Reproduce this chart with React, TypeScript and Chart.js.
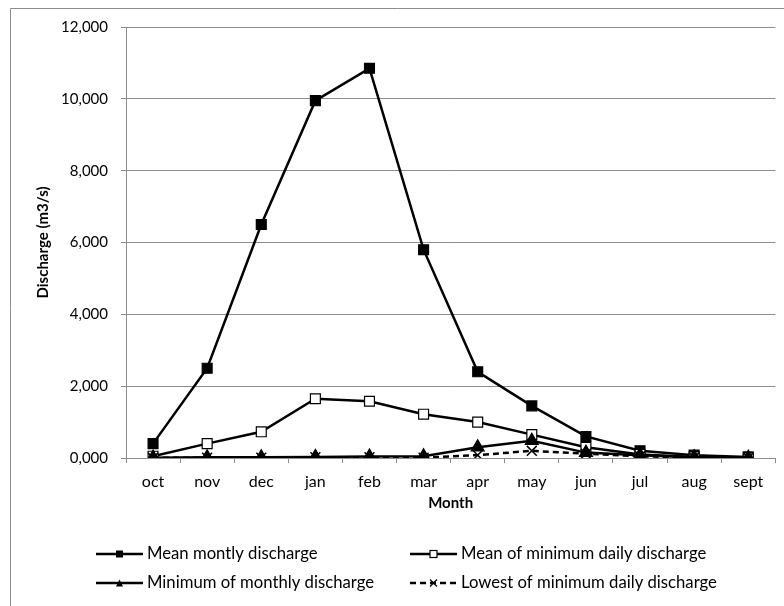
import React, { useEffect, useRef } from "react";
import { Chart, registerables } from "chart.js";

Chart.register(...registerables);

const months = ["oct", "nov", "dec", "jan", "feb", "mar", "apr", "may", "jun", "jul", "aug", "sept"];
const meanMonthly = [400, 2500, 6500, 9950, 10850, 5800, 2400, 1450, 600, 200, 80, 30];
const meanOfMinDaily = [50, 400, 730, 1650, 1580, 1220, 1000, 650, 300, 100, 30, 10];
const minOfMonthly = [10, 20, 20, 30, 40, 50, 300, 480, 150, 80, 20, 10];
const lowestMinDaily = [5, 10, 10, 20, 20, 10, 80, 200, 120, 50, 10, 5];
const seriesNames = [
  "Mean montly discharge",
  "Mean of minimum daily discharge",
  "Minimum of monthly discharge",
  "Lowest of minimum daily discharge",
];
const yTickMax = 12000;
const yTickStep = 2000;

const FONT = "Lato, 'Open Sans', sans-serif";
const GRID = "#8c8c8c";

const drawMarker = (ctx: CanvasRenderingContext2D, style: string, x: number, y: number, s: number) => {
  ctx.save();
  ctx.setLineDash([]);
  ctx.strokeStyle = "#000";
  ctx.lineWidth = 1.2;
  if (style === "rectFilled") {
    ctx.fillStyle = "#000";
    ctx.fillRect(x - s / 2, y - s / 2, s, s);
  } else if (style === "rectOpen") {
    ctx.fillStyle = "#fff";
    ctx.fillRect(x - s / 2, y - s / 2, s, s);
    ctx.strokeRect(x - s / 2, y - s / 2, s, s);
  } else if (style === "triangle") {
    ctx.fillStyle = "#000";
    ctx.beginPath();
    ctx.moveTo(x, y - s / 2);
    ctx.lineTo(x + s / 2, y + s / 2);
    ctx.lineTo(x - s / 2, y + s / 2);
    ctx.closePath();
    ctx.fill();
  } else {
    ctx.beginPath();
    ctx.moveTo(x - s / 2, y - s / 2);
    ctx.lineTo(x + s / 2, y + s / 2);
    ctx.moveTo(x + s / 2, y - s / 2);
    ctx.lineTo(x - s / 2, y + s / 2);
    ctx.stroke();
  }
  ctx.restore();
};

const frameAndLegend = {
  id: "frameAndLegend",
  afterDraw(chart: any) {
    const ctx: CanvasRenderingContext2D = chart.ctx;
    ctx.save();
    // outer frame
    ctx.strokeStyle = GRID;
    ctx.lineWidth = 1;
    ctx.beginPath();
    ctx.moveTo(10.5, 700);
    ctx.lineTo(10.5, 8.5);
    ctx.lineTo(900, 8.5);
    ctx.stroke();
    // legend
    const items = [
      { x: 96, y: 554, style: "rectFilled", dash: [] as number[] },
      { x: 410, y: 554, style: "rectOpen", dash: [] as number[] },
      { x: 96, y: 583, style: "triangle", dash: [] as number[] },
      { x: 410, y: 583, style: "cross", dash: [6, 4] },
    ];
    items.forEach((it, i) => {
      ctx.save();
      ctx.strokeStyle = "#000";
      ctx.lineWidth = 2.5;
      ctx.setLineDash(it.dash);
      ctx.beginPath();
      ctx.moveTo(it.x, it.y);
      ctx.lineTo(it.x + 47, it.y);
      ctx.stroke();
      ctx.restore();
      drawMarker(ctx, it.style, it.x + 23.5, it.y, 7);
      ctx.fillStyle = "#000";
      ctx.font = `16.7px ${FONT}`;
      ctx.textBaseline = "middle";
      ctx.textAlign = "left";
      ctx.fillText(seriesNames[i], it.x + 51, it.y);
    });
    ctx.restore();
  },
};

export default function App() {
  const ref = useRef<HTMLCanvasElement>(null);
  useEffect(() => {
    if (!ref.current) return;
    const base = {
      borderColor: "#000",
      borderWidth: 2.5,
      pointBorderColor: "#000",
      pointBorderWidth: 1.2,
      tension: 0,
    };
    const chart = new Chart(ref.current, {
      type: "line",
      data: {
        labels: months,
        datasets: [
          {
            ...base,
            label: seriesNames[3],
            data: lowestMinDaily,
            borderDash: [6, 4],
            pointStyle: "crossRot",
            pointRadius: 7,
            pointBorderWidth: 1.5,
            backgroundColor: "#000",
          },
          {
            ...base,
            label: seriesNames[2],
            data: minOfMonthly,
            pointStyle: "triangle",
            pointRadius: 7.5,
            pointBackgroundColor: "#000",
            backgroundColor: "#000",
          },
          {
            ...base,
            label: seriesNames[1],
            data: meanOfMinDaily,
            pointStyle: "rect",
            pointRadius: 7,
            pointBackgroundColor: "#fff",
            backgroundColor: "#fff",
          },
          {
            ...base,
            label: seriesNames[0],
            data: meanMonthly,
            pointStyle: "rect",
            pointRadius: 7,
            pointBackgroundColor: "#000",
            backgroundColor: "#000",
          },
        ],
      },
      options: {
        responsive: false,
        animation: false,
        layout: { padding: { left: 0, top: 27, right: 6, bottom: 88 } },
        plugins: { legend: { display: false }, tooltip: { enabled: false } },
        scales: {
          x: {
            offset: true,
            grid: { display: true, drawOnChartArea: false, offset: true, color: GRID, tickLength: 5 },
            border: { color: GRID, width: 1 },
            ticks: { color: "#000", font: { family: FONT, size: 16 }, padding: 9, maxRotation: 0 },
            title: {
              display: true,
              text: "Month",
              color: "#000",
              font: { family: FONT, size: 15, weight: "bold" },
              padding: { top: 0, bottom: 6 },
            },
            afterFit: (s: any) => {
              s.height = 60;
            },
          },
          y: {
            min: 0,
            max: yTickMax,
            ticks: {
              stepSize: yTickStep,
              color: "#000",
              font: { family: FONT, size: 15 },
              padding: 13,
              callback: (v: any) => (v === 0 ? "0,000" : Number(v).toLocaleString("en-US")),
            },
            grid: { color: GRID, tickLength: 5 },
            border: { color: GRID, width: 1 },
            title: {
              display: true,
              text: "Discharge (m3/s)",
              color: "#000",
              font: { family: FONT, size: 15, weight: "bold" },
              padding: { top: 34, bottom: 0 },
            },
            afterFit: (s: any) => {
              s.width = 126;
            },
          },
        },
      },
      plugins: [frameAndLegend],
    });
    return () => chart.destroy();
  }, []);
  return (
    <div style={{ position: "absolute", left: 0, top: 0, width: 784, height: 606, background: "#fff" }}>
      <canvas ref={ref} width={784} height={606} style={{ display: "block" }} />
    </div>
  );
}
